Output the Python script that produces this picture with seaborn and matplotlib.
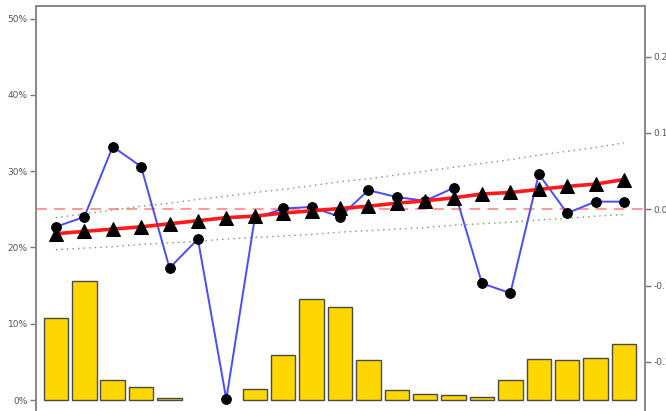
import numpy as np
import pandas as pd
import matplotlib
matplotlib.use("Agg")
import matplotlib.pyplot as plt
import seaborn as sns
from matplotlib.ticker import PercentFormatter, FixedLocator

# Per-period shares (fractions of 1)
periods = list(range(1, 22))
share = [0.108, 0.156, 0.026, 0.017, 0.003, 0.0, 0.0, 0.015, 0.059, 0.133,
         0.122, 0.052, 0.013, 0.008, 0.0065, 0.0045, 0.026, 0.054, 0.053,
         0.055, 0.074]
rate = [0.227, 0.240, 0.332, 0.306, 0.173, 0.211, 0.001, 0.238, 0.251, 0.253,
        0.240, 0.275, 0.266, 0.261, 0.278, 0.153, 0.140, 0.296, 0.245, 0.260,
        0.260]
trend = [0.218, 0.221, 0.224, 0.227, 0.231, 0.235, 0.239, 0.241, 0.245, 0.248,
         0.251, 0.254, 0.258, 0.261, 0.265, 0.270, 0.272, 0.276, 0.280, 0.283,
         0.289]
upper = [0.239, 0.244, 0.249, 0.254, 0.258, 0.263, 0.267, 0.272, 0.276, 0.281,
         0.286, 0.290, 0.295, 0.300, 0.305, 0.310, 0.315, 0.321, 0.326, 0.331,
         0.337]
lower = [0.197, 0.199, 0.201, 0.204, 0.206, 0.208, 0.211, 0.213, 0.215, 0.217,
         0.220, 0.222, 0.224, 0.226, 0.229, 0.231, 0.233, 0.236, 0.238, 0.241,
         0.243]
reference = 0.25
left_ticks = [0.0, 0.1, 0.2, 0.3, 0.4, 0.5]
right_ticks = [-0.2, -0.1, 0.0, 0.1, 0.2]

df = pd.DataFrame({"pos": np.arange(len(periods)), "period": periods,
                   "share": share, "rate": rate, "trend": trend,
                   "upper": upper, "lower": lower})

sns.set_theme(style="white")
plt.rcParams["font.family"] = ["DejaVu Sans"]

fig = plt.figure(figsize=(6.66, 4.11), dpi=100)
ax = fig.add_axes([36 / 666, 0.0, (645 - 36) / 666, 1 - 6 / 411])

sns.barplot(data=df, x="pos", y="share", color="#FFD700", saturation=1,
            width=0.86, edgecolor="#4a4a4a", linewidth=1.0, ax=ax, zorder=2)
# empty periods get no outline
for patch in ax.patches:
    if patch.get_height() <= 0:
        patch.set_visible(False)

ax.axhline(reference, color="#ff9090", lw=1.3, ls=(0, (6, 4)), zorder=3)

sns.lineplot(data=df, x="pos", y="upper", color="#6f9a6f", lw=1.0,
             ls=(0, (1, 3)), ax=ax, zorder=3)
sns.lineplot(data=df, x="pos", y="lower", color="#6f9a6f", lw=1.0,
             ls=(0, (1, 3)), ax=ax, zorder=3)

sns.lineplot(data=df, x="pos", y="rate", color="#4a4aff", lw=1.4,
             marker="o", markersize=7, markerfacecolor="black",
             markeredgecolor="black", ax=ax, zorder=4)
sns.lineplot(data=df, x="pos", y="trend", color="#ff1a1a", lw=2.6,
             marker="^", markersize=10, markerfacecolor="black",
             markeredgecolor="black", ax=ax, zorder=5)

ylo, yhi = -0.0144, 0.5164
ax.set_xlim(-0.70, 20.74)
ax.set_ylim(ylo, yhi)
ax.set_xlabel("")
ax.set_ylabel("")
ax.set_xticks([])
ax.yaxis.set_major_locator(FixedLocator(left_ticks))
ax.yaxis.set_major_formatter(PercentFormatter(1.0, decimals=0))

ax2 = ax.twinx()
ax2.set_ylim(ylo - reference, yhi - reference)
ax2.set_yticks(right_ticks)
ax2.set_yticklabels([f"{t:.1f}" for t in right_ticks])

for a in (ax, ax2):
    a.tick_params(axis="y", length=4, width=1, color="#777777",
                  labelsize=6.5, labelcolor="#555555", pad=2, direction="out")
    for name, sp in a.spines.items():
        sp.set_color("#8a8a8a")
        sp.set_linewidth(1.4)
    a.spines["bottom"].set_visible(False)
ax.tick_params(axis="y", left=True, right=False)
ax2.tick_params(axis="y", left=False, right=True)

fig.savefig("out.png", dpi=100)
